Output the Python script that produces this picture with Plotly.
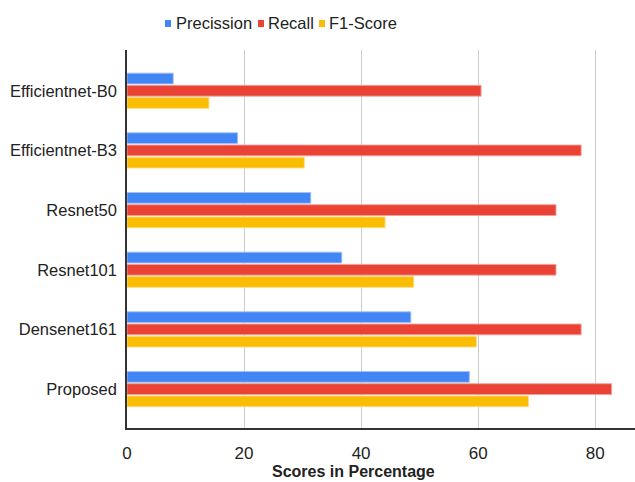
import plotly.graph_objects as go

# Model comparison: precision, recall and F1 (percent)
models = ["Efficientnet-B0", "Efficientnet-B3", "Resnet50", "Resnet101", "Densenet161", "Proposed"]
precision = [7.9, 18.9, 31.4, 36.7, 48.5, 58.5]
recall = [60.5, 77.6, 73.3, 73.3, 77.6, 82.8]
f1_score = [14.0, 30.3, 44.1, 49.0, 59.7, 68.6]

series = [
    ("Precission", precision, "#4285F4", "rgba(160,194,250,0.9)"),
    ("Recall", recall, "#EA4335", "rgba(244,160,154,0.9)"),
    ("F1-Score", f1_score, "#FBBC04", "rgba(253,221,130,0.9)"),
]

FONT = "Liberation Sans, Arial, sans-serif"
W, H = 635, 482
ML, MR, MT, MB = 127, 0, 50, 54
PW, PH = W - ML - MR, H - MT - MB


def px_x(p):
    return (p - ML) / PW


def px_y(p):
    return (H - MB - p) / PH


fig = go.Figure()
for name, vals, color, edge in series:
    fig.add_trace(go.Bar(
        y=models, x=vals, name=name, orientation="h",
        marker=dict(color=color, line=dict(color=edge, width=1)),
        showlegend=False,
    ))

# Legend row: small colour key followed by its label
legend_pos = [(165, 174), (258, 266), (319, 327)]
shapes, annotations = [], []
for (name, _, color, _), (kx, tx) in zip(series, legend_pos):
    shapes.append(dict(
        type="rect", xref="paper", yref="paper",
        x0=px_x(kx), x1=px_x(kx + 6), y0=px_y(27), y1=px_y(20),
        fillcolor=color, line=dict(width=0),
    ))
    annotations.append(dict(
        text=name, xref="paper", yref="paper", x=px_x(tx), y=px_y(23),
        xanchor="left", yanchor="middle", showarrow=False,
        font=dict(family=FONT, size=16.5, color="#222222"),
    ))

annotations.append(dict(
    text="<b>Scores in Percentage</b>", xref="paper", yref="paper",
    x=px_x(353.5), y=px_y(472), xanchor="center", yanchor="middle",
    showarrow=False, font=dict(family=FONT, size=16, color="#222222"),
))

fig.update_layout(
    width=W, height=H,
    margin=dict(l=ML, r=MR, t=MT, b=MB),
    paper_bgcolor="white", plot_bgcolor="white",
    barmode="group", bargap=0.385, bargroupgap=0.12,
    font=dict(family=FONT, size=16, color="#222222"),
    showlegend=False,
    xaxis=dict(
        range=[0, 86.8], tickvals=[0, 20, 40, 60, 80],
        showgrid=True, gridcolor="#cccccc", gridwidth=1,
        zeroline=False, showline=True, linecolor="#333333", linewidth=1.5,
        ticks="", tickfont=dict(size=17, color="#222222"),
        ticklabelstandoff=9,
    ),
    yaxis=dict(
        categoryorder="array", categoryarray=models,
        range=[5.652, -0.683],
        showgrid=False, zeroline=False,
        showline=True, linecolor="#333333", linewidth=1.5,
        ticks="", tickfont=dict(size=16.5, color="#222222"),
        ticklabelstandoff=5,
    ),
    shapes=shapes,
    annotations=annotations,
)

fig.write_html("out.html")
